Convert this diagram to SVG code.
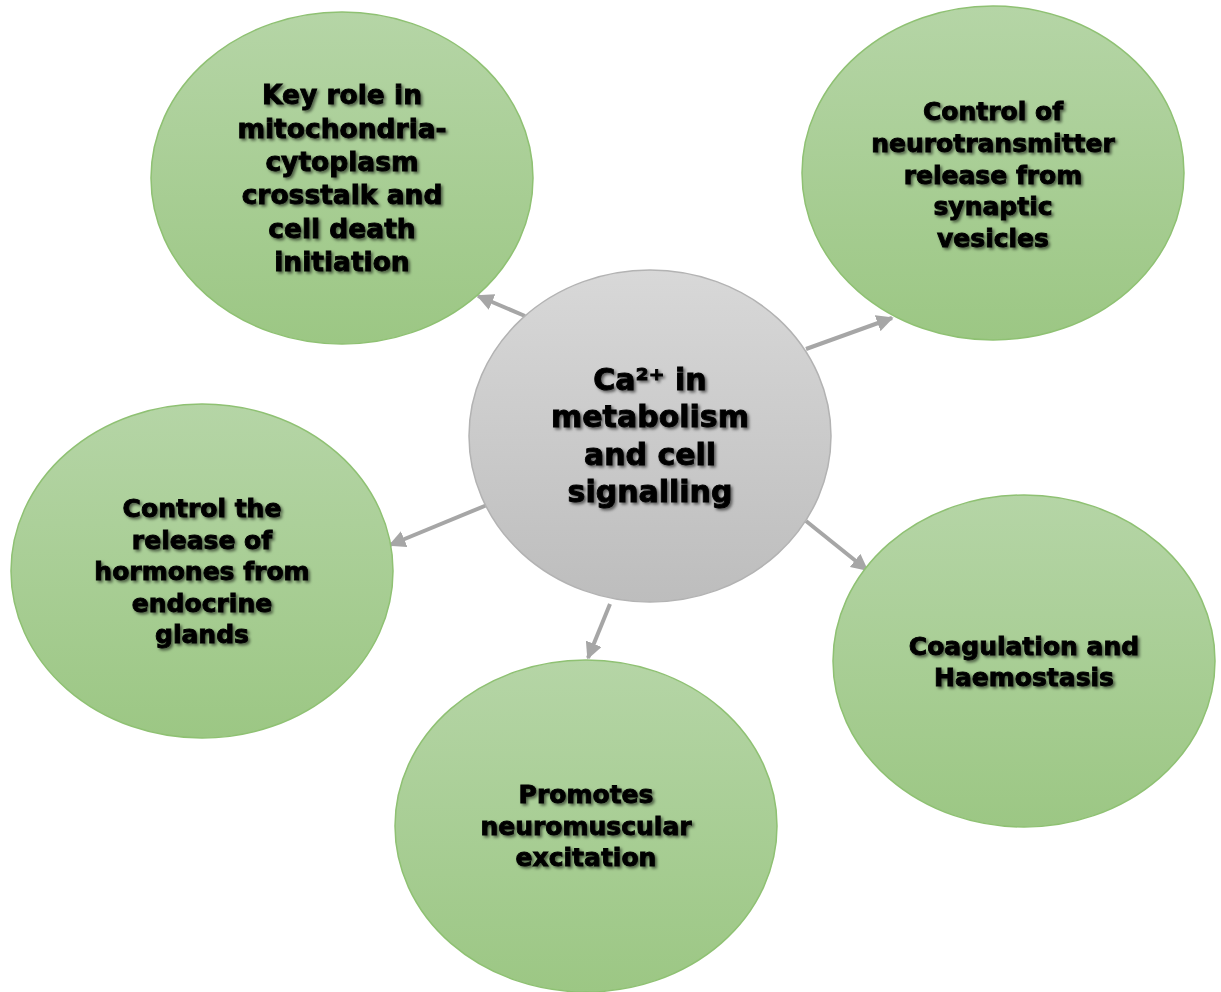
<svg xmlns="http://www.w3.org/2000/svg" width="1221" height="992" viewBox="0 0 1221 992">
  <defs>
    <linearGradient id="greenFill" x1="0" y1="0" x2="0" y2="1">
      <stop offset="0" stop-color="#b5d5a6"/>
      <stop offset="1" stop-color="#9cc784"/>
    </linearGradient>
    <linearGradient id="greyFill" x1="0" y1="0" x2="0" y2="1">
      <stop offset="0" stop-color="#d8d8d8"/>
      <stop offset="1" stop-color="#bdbdbd"/>
    </linearGradient>
    <filter id="textShadow" x="-10%" y="-20%" width="130%" height="160%">
      <feDropShadow dx="2" dy="2" stdDeviation="1.4" flood-color="#000" flood-opacity="0.55"/>
    </filter>
    <marker id="arrowHead" viewBox="0 0 10 10" refX="9" refY="5" markerWidth="17" markerHeight="17" markerUnits="userSpaceOnUse" orient="auto">
      <path d="M0,0 L10,5 L0,10 Z" fill="#a6a6a6"/>
    </marker>
  </defs>
  <style>
    .leaf { fill: url(#greenFill); stroke: #8fc173; stroke-width: 1.5; }
    .hub { fill: url(#greyFill); stroke: #b3b3b3; stroke-width: 1.5; }
    .label { font-family: "DejaVu Sans", "Liberation Sans", sans-serif; font-weight: bold; fill: #000; stroke: #000; stroke-width: 0.9; text-anchor: middle; filter: url(#textShadow); }
    .link { stroke: #a6a6a6; stroke-width: 4; fill: none; marker-end: url(#arrowHead); }
  </style>

  <rect width="1221" height="992" fill="#ffffff"/>

  <!-- connectors from the hub to each outer node -->
  <g id="connectors">
    <line class="link" x1="525" y1="316" x2="478" y2="296"/>
    <line class="link" x1="806" y1="349" x2="892" y2="318"/>
    <line class="link" x1="487" y1="505" x2="390" y2="545"/>
    <line class="link" x1="610" y1="604" x2="588" y2="658"/>
    <line class="link" x1="806" y1="521" x2="867" y2="570"/>
  </g>

  <g id="node-mitochondria" font-size="26.5">
    <ellipse class="leaf" cx="342" cy="178" rx="191" ry="166"/>
    <text class="label" x="342" y="104">Key role in</text>
    <text class="label" x="342" y="138">mitochondria-</text>
    <text class="label" x="342" y="171">cytoplasm</text>
    <text class="label" x="342" y="204">crosstalk and</text>
    <text class="label" x="342" y="238">cell death</text>
    <text class="label" x="342" y="271">initiation</text>
  </g>

  <g id="node-neurotransmitter" font-size="25">
    <ellipse class="leaf" cx="993" cy="173" rx="191" ry="167"/>
    <text class="label" x="993" y="120">Control of</text>
    <text class="label" x="993" y="152">neurotransmitter</text>
    <text class="label" x="993" y="184">release from</text>
    <text class="label" x="993" y="215">synaptic</text>
    <text class="label" x="993" y="247">vesicles</text>
  </g>

  <g id="node-hormones" font-size="25">
    <ellipse class="leaf" cx="202" cy="571" rx="191" ry="167"/>
    <text class="label" x="202" y="517">Control the</text>
    <text class="label" x="202" y="549">release of</text>
    <text class="label" x="202" y="580">hormones from</text>
    <text class="label" x="202" y="612">endocrine</text>
    <text class="label" x="202" y="643">glands</text>
  </g>

  <g id="node-coagulation" font-size="25">
    <ellipse class="leaf" cx="1024" cy="661" rx="191" ry="166"/>
    <text class="label" x="1024" y="655">Coagulation and</text>
    <text class="label" x="1024" y="686">Haemostasis</text>
  </g>

  <g id="node-neuromuscular" font-size="25">
    <ellipse class="leaf" cx="586" cy="826" rx="191" ry="166"/>
    <text class="label" x="586" y="803">Promotes</text>
    <text class="label" x="586" y="835">neuromuscular</text>
    <text class="label" x="586" y="866">excitation</text>
  </g>

  <g id="node-hub" font-size="30">
    <ellipse class="hub" cx="650" cy="436" rx="181" ry="166"/>
    <text class="label" x="650" y="390">Ca²⁺ in</text>
    <text class="label" x="650" y="427">metabolism</text>
    <text class="label" x="650" y="465">and cell</text>
    <text class="label" x="650" y="502">signalling</text>
  </g>
</svg>
